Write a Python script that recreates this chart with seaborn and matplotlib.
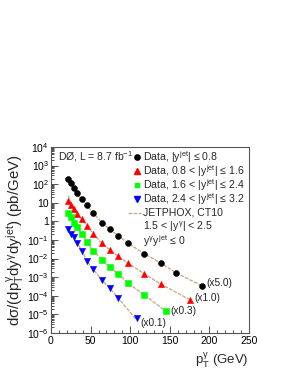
import numpy as np
import pandas as pd
import matplotlib
matplotlib.use("Agg")
import matplotlib.pyplot as plt
import seaborn as sns
from matplotlib.lines import Line2D
from matplotlib.ticker import FuncFormatter, LogLocator, MultipleLocator

# ---------------- data ----------------
pt_black = [22, 25.5, 28.5, 32.5, 39, 45, 53.5, 64, 74.5, 85, 97.5, 118, 138.5, 158, 191]
xs_black = [182, 112, 65, 32, 15.5, 7.6, 2.7, 0.85, 0.38, 0.17, 0.066, 0.0178, 0.006, 0.0016, 0.00034]
th_black = [190, 112, 66, 32, 15.5, 7.5, 2.8, 0.85, 0.37, 0.17, 0.066, 0.018, 0.0058, 0.0017, 0.00034]

pt_red = [22, 25.5, 28.5, 32.5, 39, 45, 53.5, 64, 74.5, 85, 97.5, 118, 138.5, 176]
xs_red = [12.9, 7.6, 4.47, 2.5, 1.3, 0.60, 0.21, 0.065, 0.029, 0.013, 0.0056, 0.0015, 4.2e-4, 5.9e-5]
th_red = [24, 8.5, 4.8, 2.5, 1.3, 0.62, 0.22, 0.066, 0.029, 0.013, 0.0056, 0.0015, 4.3e-4, 6.0e-5]

pt_green = [22, 25.5, 28.5, 32.5, 39, 45, 53.5, 64, 74.5, 85, 97.5, 118, 145]
xs_green = [2.94, 1.66, 0.85, 0.48, 0.21, 0.081, 0.026, 0.0084, 0.0034, 0.0015, 4.7e-4, 1.07e-4, 1.55e-5]
th_green = [3.5, 1.8, 0.9, 0.48, 0.21, 0.08, 0.027, 0.0084, 0.0034, 0.0015, 4.7e-4, 1.1e-4, 1.5e-5]

pt_blue = [22, 25.5, 28.5, 32.5, 39, 45, 53.5, 64, 74.5, 85, 108]
xs_blue = [0.39, 0.21, 0.14, 0.071, 0.026, 0.0074, 0.0026, 7.1e-4, 2.5e-4, 7.4e-5, 6.2e-6]
th_blue = [0.45, 0.22, 0.14, 0.072, 0.027, 0.0075, 0.0026, 7.2e-4, 2.5e-4, 7.5e-5, 5.0e-6]

labels = [r'Data, $|y^{\rm jet}|$ ≤ 0.8',
          r'Data, 0.8 < $|y^{\rm jet}|$ ≤ 1.6',
          r'Data, 1.6 < $|y^{\rm jet}|$ ≤ 2.4',
          r'Data, 2.4 < $|y^{\rm jet}|$ ≤ 3.2']
extra_labels = ['JETPHOX, CT10', r'1.5 < $|y^{\gamma}|$ < 2.5', r'$y^{\gamma}y^{\rm jet}$ ≤ 0']
scale_labels = ['(x5.0)', '(x1.0)', '(x0.3)', '(x0.1)']

# ---------------- style ----------------
sns.set_style("ticks")
plt.rcParams['font.family'] = ['Liberation Sans', 'DejaVu Sans']
plt.rcParams['mathtext.fontset'] = 'custom'
plt.rcParams['mathtext.rm'] = 'Liberation Sans'
plt.rcParams['mathtext.it'] = 'Liberation Sans'
plt.rcParams['mathtext.bf'] = 'Liberation Sans:bold'

W, H = 289, 374
fig = plt.figure(figsize=(W / 100, H / 100), dpi=100)
fig.patch.set_facecolor('white')
x0, x1, ytop, ybot = 51, 249, 147, 333
ax = fig.add_axes([x0 / W, (H - ybot) / H, (x1 - x0) / W, (ybot - ytop) / H])

series = [
    (pt_black, xs_black, th_black, 'black', 'o', 18),
    (pt_red, xs_red, th_red, '#ff0000', '^', 20),
    (pt_green, xs_green, th_green, '#00ff00', 's', 15),
    (pt_blue, xs_blue, th_blue, '#0000ff', 'v', 20),
]
tan = '#c9a57e'
label_dy = [2.0, 1.2, 0.0, -3.6]  # points

rows = []
for i, (pt, xs, th, c, m, s) in enumerate(series):
    for p, v, t in zip(pt, xs, th):
        rows.append(dict(series=i, pt=p, xs=v, th=t))
df = pd.DataFrame(rows)

for i, (pt, xs, th, c, m, s) in enumerate(series):
    d = df[df.series == i]
    sns.lineplot(data=d, x='pt', y='th', ax=ax, color=tan, lw=0.9,
                 linestyle=(0, (3, 1)), legend=False, sort=True)
for i, (pt, xs, th, c, m, s) in enumerate(series):
    d = df[df.series == i]
    sns.scatterplot(data=d, x='pt', y='xs', ax=ax, color=c, marker=m, s=s,
                    edgecolor=c, linewidth=0.4, legend=False, zorder=5)
    ax.annotate(scale_labels[i], (pt[-1], xs[-1]), xytext=(3, label_dy[i]),
                textcoords='offset points', fontsize=7.3, color='#222222',
                va='center', ha='left')

ax.set_yscale('log')
ax.set_xlim(0, 250)
ax.set_ylim(1e-6, 1e4)


def yfmt(v, pos):
    n = int(round(np.log10(v)))
    if n == 0:
        return '1'
    if n == 1:
        return '10'
    return r'$10^{%d}$' % n


ax.yaxis.set_major_locator(LogLocator(base=10, numticks=20))
ax.yaxis.set_minor_locator(LogLocator(base=10, subs=np.arange(2, 10), numticks=20))
ax.yaxis.set_major_formatter(FuncFormatter(yfmt))
ax.xaxis.set_major_locator(MultipleLocator(50))
ax.xaxis.set_minor_locator(MultipleLocator(10))
ax.tick_params(which='both', direction='in', colors='#333333', labelcolor='black',
               labelsize=7.5, width=0.6)
ax.tick_params(which='major', length=5)
ax.tick_params(which='minor', length=2.5)
ax.tick_params(axis='y', pad=1.5)
ax.tick_params(axis='x', pad=2.5)
for sp in ax.spines.values():
    sp.set_color('#555555')
    sp.set_linewidth(0.8)

ax.set_xlabel(r'$p_{\rm T}^{\gamma}$ (GeV)', fontsize=9.5, loc='right', labelpad=3)
ax.set_ylabel(r'd$\sigma$/(d$p_{\rm T}^{\gamma}$d$y^{\gamma}$d$y^{\rm jet}$) (pb/GeV)',
              fontsize=10.8, labelpad=1)

# legend (manual rows, figure pixel coordinates)
row_y = [156.7 + 14.05 * k for k in range(7)]
mx, tx = 136.7, 143.3
lfs = 7.6
for k, (_, _, _, c, m, s) in enumerate(series):
    fig.add_artist(Line2D([mx / W], [1 - row_y[k] / H], transform=fig.transFigure,
                          marker=m, color=c, markeredgecolor=c, ls='none',
                          markersize=np.sqrt(s) * 0.9))
    fig.text(tx / W, 1 - row_y[k] / H, labels[k], fontsize=lfs, va='center', ha='left')
fig.add_artist(Line2D([128 / W, 141 / W], [1 - row_y[4] / H] * 2, transform=fig.transFigure,
                      color=tan, lw=0.9, ls=(0, (3, 1))))
for k, txt in enumerate(extra_labels):
    fig.text(tx / W, 1 - row_y[4 + k] / H, txt, fontsize=lfs, va='center', ha='left')

fig.text(58 / W, 1 - 156.7 / H, r'D$\O$, L = 8.7 fb$^{-1}$', fontsize=7.5,
         va='center', ha='left')

fig.savefig('out.png', dpi=100)
